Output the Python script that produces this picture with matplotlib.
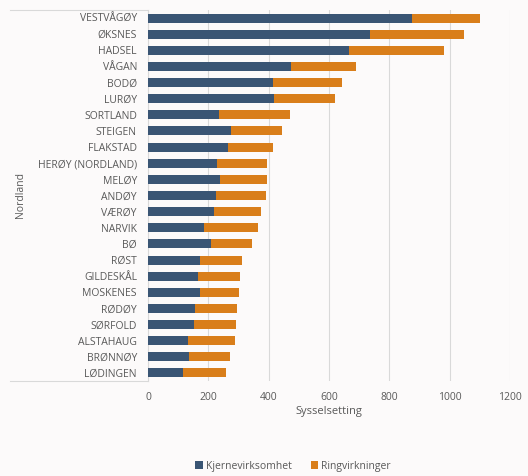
import matplotlib.pyplot as plt
from matplotlib.lines import Line2D

kommuner = ['VESTVÅGØY', 'ØKSNES', 'HADSEL', 'VÅGAN', 'BODØ', 'LURØY', 'SORTLAND',
            'STEIGEN', 'FLAKSTAD', 'HERØY (NORDLAND)', 'MELØY', 'ANDØY', 'VÆRØY',
            'NARVIK', 'BØ', 'RØST', 'GILDESKÅL', 'MOSKENES', 'RØDØY', 'SØRFOLD',
            'ALSTAHAUG', 'BRØNNØY', 'LØDINGEN']
kjerne = [875, 735, 665, 474, 413, 417, 237, 274, 266, 229, 240, 227, 220,
          185, 209, 171, 166, 172, 155, 152, 133, 135, 117]
ring = [224, 313, 316, 216, 230, 203, 234, 169, 147, 167, 154, 163, 153,
        178, 137, 140, 140, 130, 141, 139, 155, 136, 140]

bg = '#fcfafa'
txt = '#595959'
plt.rcParams['font.family'] = ['Open Sans', 'DejaVu Sans']

fig = plt.figure(figsize=(5.28, 4.76), dpi=100, facecolor=bg)
ax = fig.add_axes([148 / 528, 95 / 476, 362 / 528, 371 / 476], facecolor=bg)

y = list(range(len(kommuner)))
ax.barh(y, kjerne, height=0.56, color='#3a5574', label='Kjernevirksomhet', zorder=3)
ax.barh(y, ring, left=kjerne, height=0.56, color='#d97e1a', label='Ringvirkninger', zorder=3)

ax.set_ylim(len(kommuner) - 0.5, -0.5)
ax.set_xlim(0, 1200)
ax.set_xticks(range(0, 1201, 200))
ax.set_yticks(y)
ax.set_yticklabels(kommuner)
ax.tick_params(axis='both', length=0, colors=txt, labelsize=7.5)
ax.tick_params(axis='y', pad=8)
ax.tick_params(axis='x', pad=8)
ax.grid(axis='x', color='#d9d9d9', linewidth=0.8, zorder=0)
for s in ['top', 'right', 'bottom']:
    ax.spines[s].set_visible(False)
ax.spines['left'].set_color('#d9d9d9')

ax.set_xlabel('Sysselsetting', color=txt, fontsize=8, labelpad=2)

# group box for category labels
for yy in [466 / 476, 95 / 476]:
    fig.add_artist(Line2D([10 / 528, 148 / 528], [yy, yy], color='#d9d9d9', lw=0.8))
fig.text(20 / 528, 1 - 195 / 476, 'Nordland', rotation=90, ha='center', va='center',
         color=txt, fontsize=7.5)

fig.legend(loc='center', bbox_to_anchor=(0.555, 10 / 476), ncol=2, frameon=False,
           fontsize=7.5, labelcolor=txt, handlelength=0.7, handleheight=0.7,
           handletextpad=0.3, columnspacing=1.8)

fig.savefig('out.png', dpi=100, facecolor=bg)
